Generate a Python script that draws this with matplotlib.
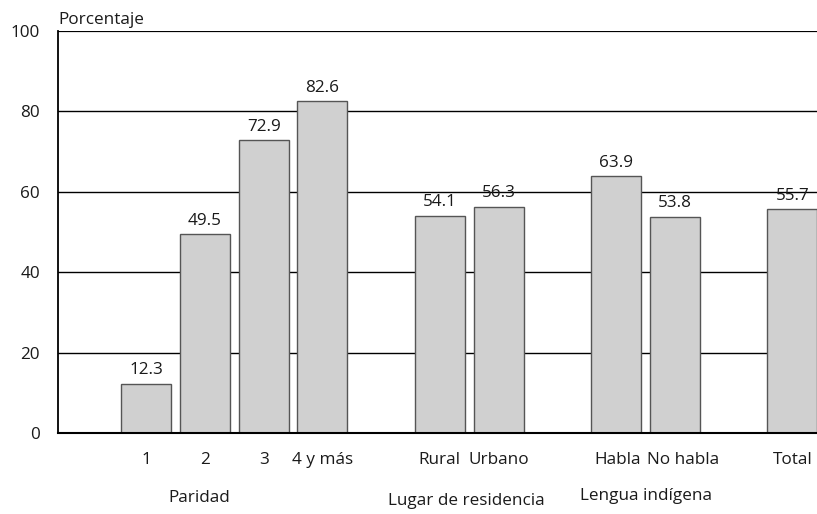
import matplotlib
matplotlib.use("Agg")
import matplotlib.pyplot as plt
from matplotlib.transforms import ScaledTranslation

plt.rcParams['font.family'] = ['Open Sans', 'DejaVu Sans']

# Data
categories = ["1", "2", "3", "4 y más", "Rural", "Urbano", "Habla", "No habla", "Total"]
values = [12.3, 49.5, 72.9, 82.6, 54.1, 56.3, 63.9, 53.8, 55.7]
slots = [0, 1, 2, 3, 5, 6, 8, 9, 11]
group_labels = ["Paridad", "Lugar de residencia", "Lengua indígena"]
group_pos = [0.9, 5.45, 8.5]
group_y = [-16.2, -17.0, -15.7]
yticks = [0, 20, 40, 60, 80, 100]

FS = 12.3
TXT = "#1a1a1a"

W, H = 817, 514
fig = plt.figure(figsize=(W / 100, H / 100), dpi=100)
ax = fig.add_axes([58 / W, 81 / H, 763.75 / W, 402 / H])

ax.set_xlim(-1.5, 11.5)
ax.set_ylim(0, 100)

# horizontal reference lines behind the bars
for yv in yticks[1:]:
    ax.axhline(yv, color="black", lw=1.0 if yv < 100 else 1.6, zorder=1)

ax.bar(slots, values, width=0.85, color="#d0d0d0", edgecolor="#555555",
       linewidth=1.0, zorder=2)

for x, v in zip(slots, values):
    ax.text(x, v + 1.3, f"{v:.1f}", ha="center", va="bottom", fontsize=FS,
            color=TXT, zorder=3)

ax.set_yticks(yticks)
ax.set_yticklabels([str(t) for t in yticks], fontsize=FS, color=TXT)
ax.tick_params(axis="y", length=0, pad=13)
ax.set_xticks(slots)
ax.set_xticklabels(categories, fontsize=FS, color=TXT)
ax.tick_params(axis="x", length=0, pad=14)

# nudge the two language labels apart so they don't touch
nudges = {"Habla": 2, "No habla": 8}
for lbl in ax.get_xticklabels():
    dx = nudges.get(lbl.get_text(), 0)
    if dx:
        lbl.set_transform(lbl.get_transform()
                          + ScaledTranslation(dx / 100, 0, fig.dpi_scale_trans))

for lab, gx, gy in zip(group_labels, group_pos, group_y):
    ax.text(gx, gy, lab, ha="center", va="center", fontsize=FS,
            color=TXT, clip_on=False)

ax.text(0, 1.008, "Porcentaje", transform=ax.transAxes, ha="left",
        va="bottom", fontsize=FS, color=TXT)

for side in ["top", "right"]:
    ax.spines[side].set_visible(False)
ax.spines["left"].set_linewidth(1.3)
ax.spines["bottom"].set_linewidth(1.5)

fig.savefig("out.png", dpi=100)
